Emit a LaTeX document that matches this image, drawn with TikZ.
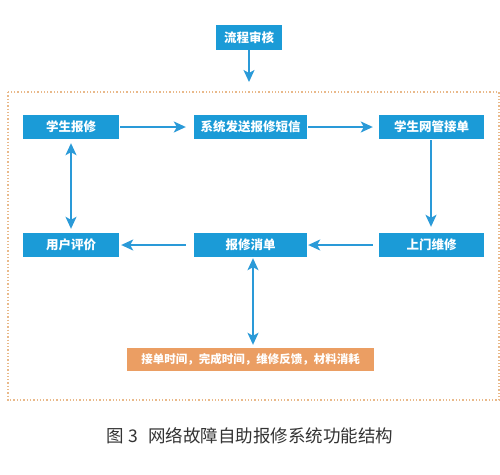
\documentclass[tikz,border=0pt]{standalone}
\usepackage{fontspec}
\setmainfont{Noto Sans CJK SC}
\usetikzlibrary{arrows.meta}
\definecolor{boxblue}{HTML}{1B9BD7}
\definecolor{arrblue}{HTML}{2A9AD8}
\definecolor{boxorange}{HTML}{EB9E63}
\definecolor{frameor}{HTML}{E9B98A}
\definecolor{captgray}{HTML}{333333}
\begin{document}
\begin{tikzpicture}[x=1pt,y=-1pt,
  bluebox/.style={fill=boxblue,text=white,inner sep=0pt,font=\fontsize{12.5}{14}\selectfont\bfseries},
  arr/.style={draw=arrblue,line width=1.5pt,-{Stealth[length=12pt,width=11pt,inset=3pt]}},
  darr/.style={draw=arrblue,line width=1.5pt,{Stealth[length=12pt,width=11pt,inset=3pt]}-{Stealth[length=12pt,width=11pt,inset=3pt]}}]
\useasboundingbox (0,0) rectangle (500,474);
\fill[white] (0,0) rectangle (500,474);
% frame
\draw[frameor,line width=1.3pt,dash pattern=on 1.3pt off 2pt] (8,92) rectangle (499,400);
% boxes
\node[bluebox,minimum width=66pt,minimum height=25pt] (audit) at (249,37.5) {流程审核};
\node[bluebox,minimum width=96pt,minimum height=24pt] (report) at (71,127) {学生报修};
\node[bluebox,minimum width=113pt,minimum height=24pt] (sms) at (250.5,127) {系统发送报修短信};
\node[bluebox,minimum width=105pt,minimum height=24pt] (accept) at (431.5,127) {学生网管接单};
\node[bluebox,minimum width=96pt,minimum height=24pt] (eval) at (71,245) {用户评价};
\node[bluebox,minimum width=113pt,minimum height=24pt] (close) at (250.5,245) {报修消单};
\node[bluebox,minimum width=105pt,minimum height=24pt] (visit) at (431.5,245) {上门维修};
\node[fill=boxorange,text=white,inner sep=0pt,minimum width=247pt,minimum height=23pt,font=\fontsize{11.5}{13}\selectfont\bfseries] (info) at (250.5,359.5) {接单时间，完成时间，维修反馈，材料消耗};
% top arrow
\coordinate (topend) at (249,82);
\draw[arr] (audit.south) -- (topend);
% arrows
\draw[arr] ([xshift=1pt]report.east) -- ([xshift=-8pt]sms.west);
\draw[arr] ([xshift=1pt]sms.east) -- ([xshift=-6pt]accept.west);
\draw[arr] ([xshift=-0.5pt,yshift=-1pt]accept.south) -- ([xshift=-0.5pt,yshift=6pt]visit.north);
\draw[arr] ([xshift=-6pt]visit.west) -- ([xshift=1pt]close.east);
\draw[arr] ([xshift=-8pt]close.west) -- ([xshift=2pt]eval.east);
\draw[darr] ([yshift=-4pt]report.south) -- ([yshift=4pt]eval.north);
\draw[darr] ([xshift=2.5pt,yshift=-1pt]close.south) -- ([xshift=2.5pt,yshift=3pt]info.north);
% caption
\node[text=captgray,inner sep=0pt,font=\fontsize{17.5}{19}\selectfont] (cap) at (250,436) {图 3\hspace{0.6em}网络故障自助报修系统功能结构};
\end{tikzpicture}
\end{document}
